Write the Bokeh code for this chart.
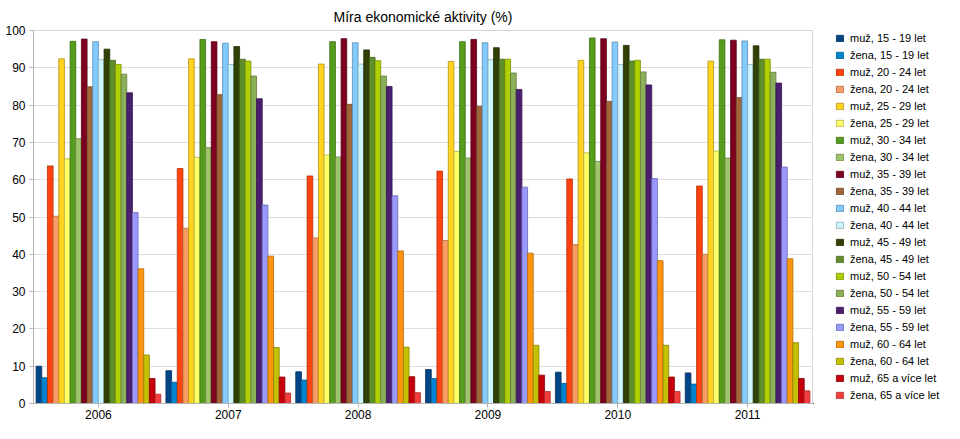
from bokeh.plotting import figure
from bokeh.layouts import row
from bokeh.models import ColumnDataSource, Legend, LegendItem, Range1d, FactorRange, SingleIntervalTicker
from bokeh.transform import dodge
from bokeh.embed import file_html
from bokeh.resources import INLINE

years = ["2006", "2007", "2008", "2009", "2010", "2011"]
labels = [
    "muž, 15 - 19 let", "žena, 15 - 19 let",
    "muž, 20 - 24 let", "žena, 20 - 24 let",
    "muž, 25 - 29 let", "žena, 25 - 29 let",
    "muž, 30 - 34 let", "žena, 30 - 34 let",
    "muž, 35 - 39 let", "žena, 35 - 39 let",
    "muž, 40 - 44 let", "žena, 40 - 44 let",
    "muž, 45 - 49 let", "žena, 45 - 49 let",
    "muž, 50 - 54 let", "žena, 50 - 54 let",
    "muž, 55 - 59 let", "žena, 55 - 59 let",
    "muž, 60 - 64 let", "žena, 60 - 64 let",
    "muž, 65 a více let", "žena, 65 a více let",
]
colors = [
    "#004586", "#0084d1", "#ff420e", "#f99b62", "#ffd320", "#ffff66",
    "#579d1c", "#9ec46c", "#7e0021", "#a0663a", "#83caff", "#ccf5ff",
    "#314004", "#5f8f2a", "#aecf00", "#8caf5a", "#4b1f6f", "#9999ff",
    "#ff950e", "#c5c000", "#c5000b", "#f53d3d",
]

v2006 = [10.0, 6.9, 63.7, 50.2, 92.4, 65.6, 97.1, 71.0, 97.7, 84.9, 97.0, 92.2,
         95.0, 92.0, 90.9, 88.3, 83.3, 51.2, 36.1, 13.0, 6.7, 2.5]
v2007 = [8.8, 5.7, 63.0, 47.0, 92.4, 66.0, 97.6, 68.6, 97.0, 82.8, 96.6, 90.9,
         95.7, 92.3, 91.8, 87.8, 81.7, 53.2, 39.5, 15.0, 7.1, 2.8]
v2008 = [8.5, 6.3, 61.0, 44.4, 91.0, 66.6, 97.0, 66.1, 97.8, 80.2, 96.7, 91.0,
         94.8, 92.8, 91.9, 87.8, 85.0, 55.7, 40.9, 15.1, 7.2, 2.9]
v2009 = [9.1, 6.7, 62.3, 43.7, 91.7, 67.6, 97.0, 65.8, 97.6, 79.7, 96.7, 92.2,
         95.4, 92.3, 92.3, 88.6, 84.2, 58.0, 40.3, 15.6, 7.6, 3.2]
v2010 = [8.4, 5.4, 60.2, 42.6, 92.0, 67.2, 98.0, 64.9, 97.8, 81.0, 96.9, 90.9,
         96.0, 91.8, 92.0, 88.9, 85.4, 60.3, 38.3, 15.6, 7.1, 3.2]
v2011 = [8.2, 5.2, 58.3, 40.0, 91.8, 67.7, 97.5, 65.8, 97.4, 82.0, 97.2, 90.9,
         95.9, 92.3, 92.3, 88.8, 85.9, 63.4, 38.8, 16.3, 6.7, 3.4]

per_year = [v2006, v2007, v2008, v2009, v2010, v2011]


def darken(h, f=0.7):
    h = h.lstrip("#")
    r, g, b = (int(h[i:i + 2], 16) for i in (0, 2, 4))
    return "#%02x%02x%02x" % (int(r * f), int(g * f), int(b * f))


data = {"year": years}
for i in range(len(labels)):
    data["s%d" % i] = [vals[i] for vals in per_year]
source = ColumnDataSource(data)

FONT = "Liberation Sans"

H = 423
PW, LW = 813, 131
LEFT, TOP, BOTTOM = 33, 30, 20

p = figure(
    width=PW, height=H,
    x_range=FactorRange(*years, range_padding=0),
    y_range=Range1d(0, 100),
    output_backend="svg", toolbar_location=None,
    min_border_left=LEFT, min_border_right=1,
    min_border_top=TOP, min_border_bottom=BOTTOM,
)

n = len(labels)
group = 0.96
w = group / n
for i in range(n):
    off = -group / 2 + w * (i + 0.5)
    p.vbar(x=dodge("year", off, range=p.x_range), top="s%d" % i, width=w,
           source=source, fill_color=colors[i], line_color=darken(colors[i]),
           line_width=0.8)

p.title.text = "Míra ekonomické aktivity (%)"
p.title.align = "center"
p.title.text_font = FONT
p.title.text_font_size = "14px"
p.title.text_font_style = "normal"
p.title.text_color = "#000000"
p.title.offset = 55
p.title.standoff = 12

p.yaxis.ticker = SingleIntervalTicker(interval=10)
for ax in (p.xaxis, p.yaxis):
    ax.major_label_text_font = FONT
    ax.major_label_text_font_size = "12px"
    ax.major_label_text_color = "#000000"
    ax.axis_line_color = "#b3b3b3"
    ax.major_tick_line_color = "#b3b3b3"
    ax.major_tick_in = 0
    ax.major_tick_out = 4
    ax.minor_tick_line_color = None
    ax.major_label_standoff = 4
p.xaxis.major_label_standoff = 2

p.xgrid.grid_line_color = None
p.ygrid.grid_line_color = "#dedede"
p.outline_line_color = "#d6d6d6"
p.background_fill_color = "#ffffff"
p.border_fill_color = "#ffffff"

# legend panel
lg = figure(
    width=LW, height=H, x_range=Range1d(0, 1), y_range=Range1d(0, 1),
    x_axis_type=None, y_axis_type=None, title=None,
    output_backend="svg", toolbar_location=None,
    min_border_left=0, min_border_right=0, min_border_top=0, min_border_bottom=0,
)
lg.grid.grid_line_color = None
lg.outline_line_color = None
lg.border_fill_color = "#ffffff"
lg.background_fill_color = "#ffffff"
items = []
for i in range(n):
    r = lg.vbar(x=[-5], top=[0], width=0.1, fill_color=colors[i],
                line_color=darken(colors[i]), line_width=0.8)
    items.append(LegendItem(label=labels[i], renderers=[r]))

ITEM_H, GAP = 14, 3
legend = Legend(items=items, location=(22, 1), orientation="vertical",
                glyph_width=9, glyph_height=8, label_height=ITEM_H, spacing=GAP,
                label_standoff=6, padding=0, margin=0,
                label_text_font=FONT, label_text_font_size="11px",
                label_text_color="#000000", border_line_color=None,
                background_fill_alpha=0)
lg.add_layout(legend, "center")

layout = row(p, lg, spacing=0)
open("out.html", "w").write(file_html(layout, INLINE))
